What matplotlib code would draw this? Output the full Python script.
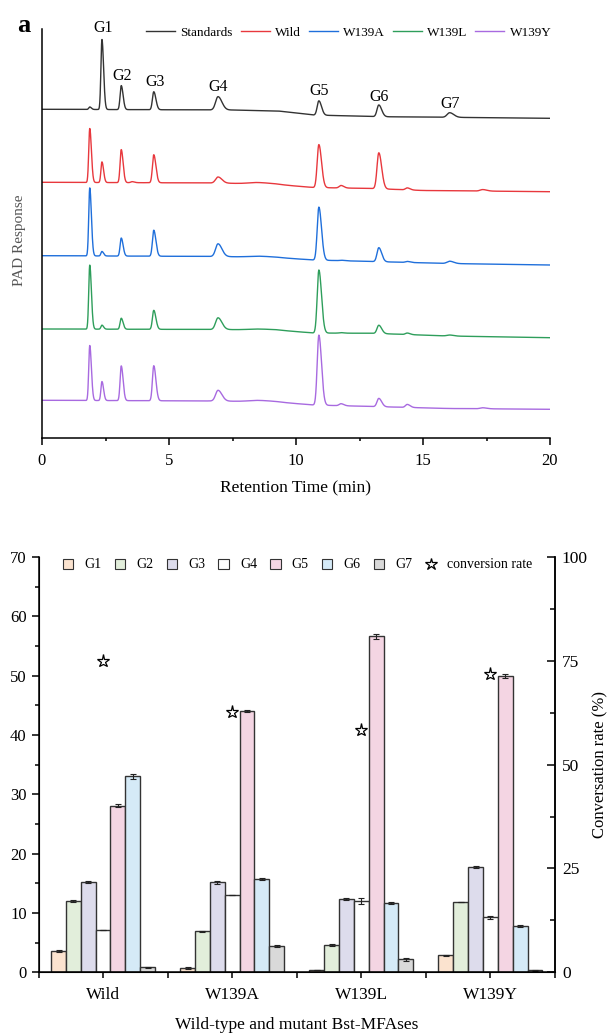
import numpy as np
import matplotlib.pyplot as plt
from matplotlib.patches import Patch
from matplotlib.lines import Line2D
from matplotlib.ticker import MultipleLocator

plt.rcParams['font.family'] = ['Liberation Serif', 'DejaVu Serif']

# ---------------- panel a: HPLC-PAD chromatograms ----------------
# retention times (min) and widths of the peaks seen in the traces
peak_times = [1.88, 2.36, 3.12, 3.55, 4.40, 6.93, 8.5, 10.9, 11.77, 13.26, 14.38, 16.05, 17.35]
peak_sigma = [0.04, 0.04, 0.045, 0.055, 0.052, 0.095, 0.35, 0.065, 0.07, 0.07, 0.07, 0.1, 0.1]

# peak heights above baseline (arbitrary response units)
std_heights = [2.5, 70, 24, 0, 18, 13.3, 0, 14.3, 0, 11.7, 0, 4.6, 0]
wild_heights = [54, 20.6, 33, 1, 28, 6, 1.5, 43, 2.5, 36, 2, 0, 1.5]
w139a_heights = [68, 4.5, 18, 0, 26, 12.7, 1, 53, 0.5, 14, 1, 2.3, 0]
w139l_heights = [64, 4, 11, 0, 19, 11.7, 0.8, 63, 0.5, 8.3, 1.5, 1, 0]
w139y_heights = [55, 19, 34.7, 0, 35, 10.7, 1.3, 70, 2, 8.3, 3, 0, 1]

# baseline drift (time, response) of each stacked trace
std_base_t = [0, 7.5, 9.3, 10.7, 13.3, 16, 20]
std_base_y = [328.7, 328, 327, 323, 321.3, 320.7, 319.7]
wild_base_t = [0, 7, 9.2, 10.7, 13, 15, 20]
wild_base_y = [255.7, 255, 253.5, 250.5, 249.5, 247.5, 246.3]
w139a_base_t = [0, 7, 9.2, 10.7, 13, 16, 20]
w139a_base_y = [182.3, 181.5, 180.5, 178, 176.5, 174.5, 173]
w139l_base_t = [0, 7, 9.2, 10.7, 13, 16, 20]
w139l_base_y = [109, 108.5, 108, 105, 104.7, 102, 100.3]
w139y_base_t = [0, 7, 9.2, 10.7, 13, 16, 20]
w139y_base_y = [37.7, 37, 36, 33, 31.5, 29.5, 28.7]

trace_names = ['Standards', 'Wild', 'W139A', 'W139L', 'W139Y']
trace_colors = ['#333333', '#E8383D', '#1F6FDB', '#2E9E5B', '#A86AE0']

std_labels = ['G1', 'G2', 'G3', 'G4', 'G5', 'G6', 'G7']
std_label_x = [2.40, 3.17, 4.45, 6.95, 10.92, 13.28, 16.06]
std_label_y = [409.7, 362, 356.3, 350.7, 347.3, 341.3, 333.7]

# ---------------- panel b: product distribution ----------------
groups = ['Wild', 'W139A', 'W139L', 'W139Y']
g1 = [3.6, 0.7, 0.4, 2.85]
g2 = [11.95, 6.9, 4.6, 11.85]
g3 = [15.2, 15.2, 12.3, 17.7]
g4 = [7.1, 13.0, 12.0, 9.25]
g5 = [28.1, 44.0, 56.6, 49.95]
g6 = [33.0, 15.7, 11.7, 7.8]
g7 = [0.8, 4.4, 2.2, 0.3]
g1_err = [0.2, 0.1, 0.05, 0.1]
g2_err = [0.15, 0.1, 0.15, 0.05]
g3_err = [0.15, 0.25, 0.2, 0.2]
g4_err = [0.05, 0.05, 0.45, 0.25]
g5_err = [0.25, 0.15, 0.35, 0.3]
g6_err = [0.35, 0.15, 0.2, 0.1]
g7_err = [0.15, 0.2, 0.25, 0.05]
conversion = [75.0, 62.7, 58.3, 71.8]

bar_labels = ['G1', 'G2', 'G3', 'G4', 'G5', 'G6', 'G7']
bar_colors = ['#FBE3CF', '#E2EEDB', '#DDDCEC', '#FFFFFF', '#F4D5E3', '#D5EAF7', '#D9D9D9']


def peak(t, t0, sigma, h):
    # slightly tailing peak
    s = np.where(t < t0, sigma, sigma * 1.6)
    return h * np.exp(-0.5 * ((t - t0) / s) ** 2)


def trace(t, heights, base_t, base_y):
    y = np.interp(t, base_t, base_y)
    for t0, s, h in zip(peak_times, peak_sigma, heights):
        if h > 0:
            y = y + peak(t, t0, s, h)
    return y


fig = plt.figure(figsize=(6.10, 10.33), dpi=100)

# ---- top panel ----
ax = fig.add_axes([42 / 610, 1 - 438 / 1033, 508 / 610, 408.7 / 1033])
t = np.linspace(0, 20, 4001)
all_heights = [std_heights, wild_heights, w139a_heights, w139l_heights, w139y_heights]
all_bt = [std_base_t, wild_base_t, w139a_base_t, w139l_base_t, w139y_base_t]
all_by = [std_base_y, wild_base_y, w139a_base_y, w139l_base_y, w139y_base_y]
for name, c, hts, bt, by in zip(trace_names, trace_colors, all_heights, all_bt, all_by):
    ax.plot(t, trace(t, hts, bt, by), color=c, lw=1.0, label=name)

for lab, lx, ly in zip(std_labels, std_label_x, std_label_y):
    ax.text(lx, ly, lab, ha='center', va='center', fontsize=11.5)

ax.set_xlim(0, 20)
ax.set_ylim(0, 408.7)
ax.spines['top'].set_visible(False)
ax.spines['right'].set_visible(False)
ax.spines['left'].set_linewidth(1.1)
ax.spines['bottom'].set_linewidth(1.1)
ax.set_yticks([])
ax.xaxis.set_major_locator(MultipleLocator(5))
ax.xaxis.set_minor_locator(MultipleLocator(2.5))
ax.tick_params(axis='x', which='major', direction='out', length=5, width=1.1, labelsize=12, pad=6)
ax.tick_params(axis='x', which='minor', direction='out', length=2.5, width=1.1)
ax.set_xlabel('Retention Time (min)', fontsize=12.5, labelpad=8)

ax.legend(loc='center left', bbox_to_anchor=(146 / 610, 1 - 32.7 / 1033),
          bbox_transform=fig.transFigure, ncol=5, frameon=False, fontsize=9.5,
          handlelength=2.2, handletextpad=0.4, columnspacing=0.6,
          borderpad=0, borderaxespad=0)

fig.text(20 / 610, 1 - 240 / 1033, 'PAD Response', rotation=90, ha='center', va='center',
         fontsize=11, color='#555555')
fig.text(24 / 610, 1 - 26 / 1033, 'a', ha='center', va='center', fontsize=19, fontweight='bold')

# ---- bottom panel ----
axb = fig.add_axes([38.5 / 610, 1 - 972.2 / 1033, 516.5 / 610, 415.2 / 1033])
x = np.arange(len(groups))
width = 0.115
series = [g1, g2, g3, g4, g5, g6, g7]
errs = [g1_err, g2_err, g3_err, g4_err, g5_err, g6_err, g7_err]
for i, (vals, err, col, lab) in enumerate(zip(series, errs, bar_colors, bar_labels)):
    pos = x + (i - 3) * width
    axb.bar(pos, vals, width, color=col, edgecolor='#333333', linewidth=1.0, label=lab,
            yerr=err, capsize=2.5, error_kw=dict(ecolor='#222222', elinewidth=0.8, capthick=0.8))

axb.set_xlim(-0.5, 3.5)
axb.set_ylim(0, 70)
axb.set_xticks(x)
axb.set_xticklabels(groups)
axb.set_xticks(np.arange(-0.5, 4.0, 1.0), minor=True)
axb.yaxis.set_major_locator(MultipleLocator(10))
axb.yaxis.set_minor_locator(MultipleLocator(5))
axb.tick_params(axis='y', which='major', direction='out', length=5, width=1.1, labelsize=12)
axb.tick_params(axis='y', which='minor', direction='out', length=3, width=1.1)
axb.tick_params(axis='x', which='both', direction='out', length=4.5, width=1.1, labelsize=12.5, pad=6)
axb.set_xlabel('Wild-type and mutant Bst-MFAses', fontsize=12.5, labelpad=10)
axb.spines['top'].set_visible(False)
for sp in ['left', 'bottom', 'right']:
    axb.spines[sp].set_linewidth(1.1)

axr = axb.twinx()
axr.set_ylim(0, 100)
axr.plot(x, conversion, linestyle='none', marker='*', markersize=9.5,
         markerfacecolor='none', markeredgecolor='black', markeredgewidth=0.9)
axr.yaxis.set_major_locator(MultipleLocator(25))
axr.yaxis.set_minor_locator(MultipleLocator(12.5))
axr.tick_params(axis='y', which='major', direction='in', length=6, width=1.1, labelsize=12.5, pad=5)
axr.tick_params(axis='y', which='minor', direction='in', length=3.5, width=1.1)
axr.spines['top'].set_visible(False)
axr.spines['right'].set_linewidth(1.1)
axr.set_ylabel('Conversation rate (%)', fontsize=12, labelpad=3)

handles = [Patch(facecolor=c, edgecolor='#333333', linewidth=0.8) for c in bar_colors]
handles.append(Line2D([], [], linestyle='none', marker='*', markersize=9,
                      markerfacecolor='none', markeredgecolor='black', markeredgewidth=0.9))
axb.legend(handles, bar_labels + ['conversion rate'], loc='center left',
           bbox_to_anchor=(63 / 610, 1 - 565 / 1033), bbox_transform=fig.transFigure,
           ncol=8, frameon=False, fontsize=10, handlelength=0.75, handleheight=0.75,
           handletextpad=0.8, columnspacing=0.95, borderpad=0, borderaxespad=0)

fig.savefig('out.png', dpi=100)
